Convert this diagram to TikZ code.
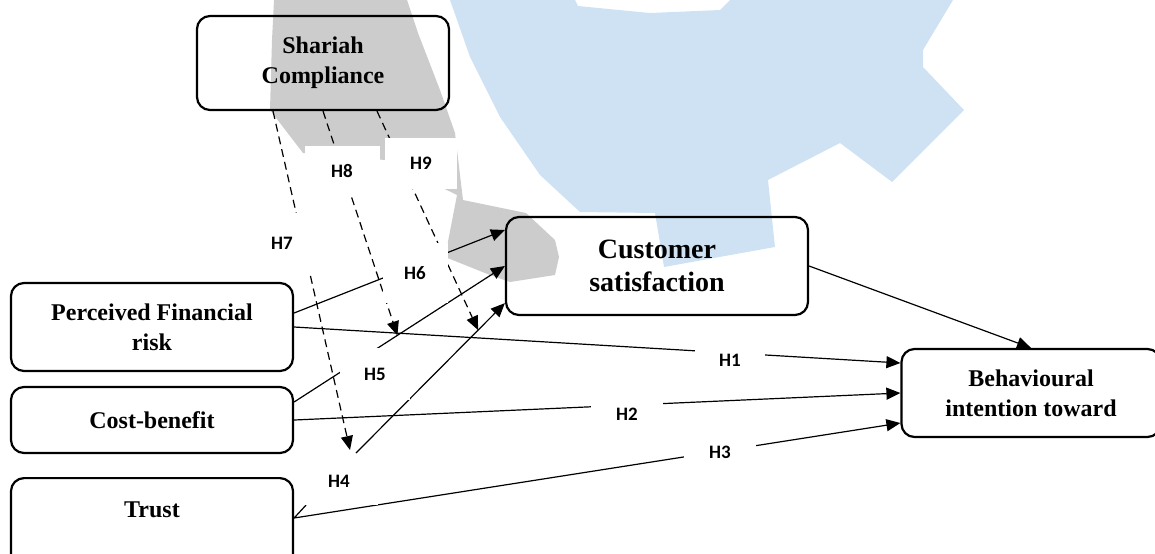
\documentclass[tikz,border=0pt]{standalone}
\usepackage{fontspec}
\setmainfont{Liberation Serif}
\newfontfamily\hypfont{Carlito}
\usepackage{xcolor}
\usetikzlibrary{arrows.meta,calc,positioning}
\definecolor{gearblue}{RGB}{207,226,243}
\definecolor{geargray}{RGB}{204,204,204}

\begin{document}
\begin{tikzpicture}[
	%	style def
    x=0.5pt, y=-0.5pt,
    construct/.style={draw, line width=1.1pt, rounded corners=6.5pt, align=center, inner sep=0pt,
        font=\bfseries\fontsize{12}{15}\selectfont},
    path line/.style={line width=0.6pt, -{Triangle[length=7pt,width=6pt]}},
    moderator line/.style={path line, dash pattern=on 4pt off 2.5pt},
    hyp label/.style={fill=white, inner sep=0pt, font=\hypfont\bfseries\fontsize{9.5}{11}\selectfont}
    ]
    \useasboundingbox (0,0) rectangle (1155,553);
    \clip (0,0) rectangle (1155,553);

    % watermark gear in the background
    \fill[gearblue] (450,0) -- (575,0) -- (578,6) -- (650,13) -- (720,10) -- (730,0) -- (953,0) -- (923,50) -- (923,67)
        -- (964,110) -- (892,182) -- (840,143) -- (768,180) -- (775,247) -- (664,267) -- (655,213)
        -- (580,212) -- (540,175) -- (500,117) -- (470,57) -- cycle;
    \fill[geargray] (274,0) -- (407,0) -- (418,33) -- (440,90) -- (455,133) -- (463,200) -- (526,213)
        -- (555,240) -- (559,257) -- (555,275) -- (510,282) -- (490,275) -- (445,257) -- (457,195)
        -- (385,160) -- (303,153) -- (270,110) -- (272,40) -- cycle;

    % constructs
    \node[construct, minimum width=126pt, minimum height=47pt] (shariah) at (323,63) {Shariah\\Compliance};
    \node[construct, minimum width=151pt, minimum height=49pt, font=\bfseries\fontsize{14}{16.5}\selectfont]
        (custsat) at (657,266) {Customer\\satisfaction};
    \node[construct, minimum width=141pt, minimum height=44pt] (perceived) at (152,327) {Perceived Financial\\risk};
    \node[construct, minimum width=141pt, minimum height=33pt] (cost) at (152,420) {Cost-benefit};
    \node[construct, minimum width=141pt, text height=19.5pt, text depth=32pt, anchor=north] (trust) at (152,477) {Trust};
    \node[construct, minimum width=129.5pt, minimum height=44pt] (behav) at (1031,393) {Behavioural\\intention toward};

    % direct paths
    \draw[path line] (perceived.east) -- ($(behav.west)+(0,-30)$);
    \draw[path line] (cost.east) -- (behav.west);
    \draw[path line] ($(trust.north east)+(12,28)$) -- ($(trust.north east)+(0,41)$) -- ($(behav.west)+(0,30)$);
    \draw[path line] (custsat.east) -- (behav.north);

    % paths to customer satisfaction
    \draw[path line] ($(perceived.east)+(0,-14)$) -- ($(custsat.west)+(0,-36)$);
    \draw[path line] ($(cost.east)+(0,-18)$) -- coordinate[pos=0.49] (h5mid) (custsat.west);
    \coordinate (h4start) at (356,453);
    \draw[path line] (h4start) -- coordinate[pos=0.82] (h4mid) ($(custsat.south west)+(0,-13)$);

    % moderating effect of shariah compliance (dashed)
    \draw[moderator line] ($(shariah.south)+(-50,0)$) -- ($(h4start)+(-6,-3)$);
    \draw[moderator line] (shariah.south) -- (h5mid);
    \draw[moderator line] ($(shariah.south)+(54,0)$) -- (h4mid);

    % hypothesis labels
    \node[hyp label, minimum width=35pt, minimum height=15pt] (h1) at (730,360) {H1};
    \node[hyp label, minimum width=36pt, minimum height=17pt] (h2) at (627,414) {H2};
    \node[hyp label, minimum width=36pt, minimum height=15pt] (h3) at (720,452) {H3};
    \node[hyp label, minimum width=39pt, minimum height=24pt] (h4) at (339,481) {H4};
    \node[hyp label, minimum width=35pt, minimum height=26pt] (h5) at (375,374) {H5};
    \node[hyp label, minimum width=32.5pt, minimum height=30pt] (h6) at (415,273) {H6};
    \node[hyp label, minimum width=29pt, minimum height=30pt] (h7) at (282,243) {H7};
    \node[hyp label, minimum width=37.5pt, minimum height=25pt] (h8) at (342,171) {H8};
    \node[hyp label, minimum width=36pt, minimum height=25.5pt] (h9) at (421,163) {H9};
\end{tikzpicture}
\end{document}
